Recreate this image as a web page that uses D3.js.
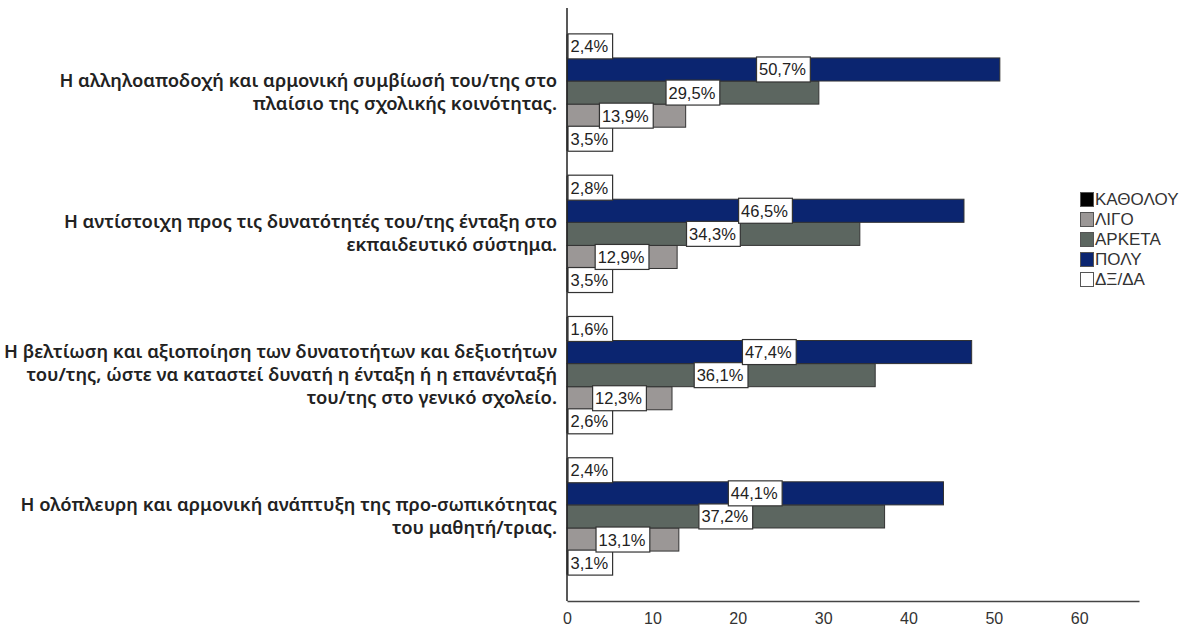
<!DOCTYPE html>
<html>
<head>
<meta charset="utf-8">
<script src="https://cdn.jsdelivr.net/npm/d3@7"></script>
<style>
  body { margin: 0; background: #fff; }
  .cat { font-family: 'Noto Sans', sans-serif; font-size: 18.4px; font-weight: 600; fill: #222; }
  .lbl { font-family: 'Liberation Sans', Arial, sans-serif; font-size: 16.5px; fill: #222; }
  .tick text { font-family: 'Liberation Sans', Arial, sans-serif; font-size: 16px; fill: #333; }
  .leg { font-family: 'Liberation Sans', Arial, sans-serif; font-size: 17px; fill: #333; }
</style>
</head>
<body>
<div id="chart"></div>
<script>
var categories = [
  ['Η αλληλοαποδοχή και αρμονική συμβίωσή του/της στο', 'πλαίσιο της σχολικής κοινότητας.'],
  ['Η αντίστοιχη προς τις δυνατότητές του/της ένταξη στο', 'εκπαιδευτικό σύστημα.'],
  ['Η βελτίωση και αξιοποίηση των δυνατοτήτων και δεξιοτήτων', 'του/της, ώστε να καταστεί δυνατή η ένταξη ή η επανένταξή', 'του/της στο γενικό σχολείο.'],
  ['Η ολόπλευρη και αρμονική ανάπτυξη της προ-σωπικότητας', 'του μαθητή/τριας.']
];
var series = ['ΚΑΘΟΛΟΥ', 'ΛΙΓΟ', 'ΑΡΚΕΤΑ', 'ΠΟΛΥ', 'ΔΞ/ΔΑ'];
var colors = ['#000000', '#9b9796', '#5c6660', '#0b2570', '#ffffff'];
// percent per category, in series order
var kathOlou = [3.5, 3.5, 2.6, 3.1];
var ligo     = [13.9, 12.9, 12.3, 13.1];
var arketa   = [29.5, 34.3, 36.1, 37.2];
var poly     = [50.7, 46.5, 47.4, 44.1];
var dxda     = [2.4, 2.8, 1.6, 2.4];
var xTicks = [0, 10, 20, 30, 40, 50, 60];

var values = [kathOlou, ligo, arketa, poly, dxda];
var width = 1182, height = 627;
var x0 = 567, yTop = 8, yBot = 601;

var svg = d3.select('#chart').append('svg').attr('width', width).attr('height', height);

var x = d3.scaleLinear().domain([0, 67]).range([x0, 1139]);
var y = d3.scaleBand().domain(d3.range(categories.length)).range([yTop, yBot]).paddingInner(0.183).paddingOuter(0.19);
// rows drawn top to bottom in reverse legend order
var rowOrder = series.slice().reverse();
var yRow = d3.scaleBand().domain(rowOrder).range([0, y.bandwidth()]);

var data = [];
categories.forEach((c, i) => {
  series.forEach((s, j) => {
    data.push({cat: i, series: s, color: colors[j], value: values[j][i]});
  });
});

// bars
svg.append('g').selectAll('rect').data(data).enter().append('rect')
  .attr('x', x(0))
  .attr('y', d => y(d.cat) + yRow(d.series))
  .attr('width', d => x(d.value) - x(0))
  .attr('height', yRow.bandwidth())
  .attr('fill', d => d.color)
  .attr('stroke', '#333').attr('stroke-width', 1);

// axes
svg.append('line').attr('x1', x0).attr('x2', x0).attr('y1', yTop).attr('y2', yBot)
  .attr('stroke', '#222').attr('stroke-width', 1.5);
var xAxis = svg.append('g').attr('transform', `translate(0,${yBot})`)
  .call(d3.axisBottom(x).tickValues(xTicks).tickSize(0).tickPadding(12).tickFormat(d3.format('d')));
xAxis.select('.domain').attr('stroke', '#444').attr('stroke-width', 1.5);

// value labels
var labels = svg.append('g').selectAll('g').data(data).enter().append('g');
labels.each(function (d) {
  var g = d3.select(this);
  var t = g.append('text').attr('class', 'lbl').text(d3.format('.1f')(d.value).replace('.', ',') + '%');
  var w = t.node().getComputedTextLength() + 7;
  var h = 25;
  var cx = (x(0) + x(d.value)) / 2;
  var left = Math.max(cx - w / 2, x0 + 1);
  var cy = y(d.cat) + yRow(d.series) + yRow.bandwidth() / 2;
  g.insert('rect', 'text').attr('x', left).attr('y', cy - h / 2).attr('width', w).attr('height', h)
    .attr('fill', '#fff').attr('stroke', '#333').attr('stroke-width', 1.2);
  t.attr('x', left + 2.5).attr('y', cy + 6);
});

// category labels
var catG = svg.append('g').selectAll('text').data(categories).enter().append('text')
  .attr('class', 'cat').attr('text-anchor', 'end');
catG.each(function (lines, i) {
  var lh = 23;
  var cy = y(i) + y.bandwidth() / 2;
  var start = cy - (lines.length - 1) * lh / 2;
  d3.select(this).selectAll('tspan').data(lines).enter().append('tspan')
    .attr('x', 557).attr('y', (l, k) => start + k * lh + 6).text(l => l);
});

// legend
var leg = svg.append('g').attr('transform', 'translate(1080,192)');
series.forEach((s, j) => {
  var r = leg.append('g').attr('transform', `translate(0,${j * 20})`);
  r.append('rect').attr('x', 0.5).attr('y', 0.5).attr('width', 13).attr('height', 14)
    .attr('fill', colors[j]).attr('stroke', '#555');
  r.append('text').attr('class', 'leg').attr('x', 15).attr('y', 13).text(s);
});
</script>
</body>
</html>
